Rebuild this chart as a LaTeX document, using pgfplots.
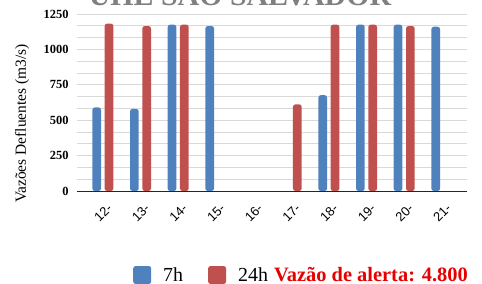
\documentclass[border=0pt]{standalone}
\usepackage{fontspec}
\setmainfont{Liberation Serif}
\setsansfont{Liberation Sans}
\usepackage{pgfplots}
\pgfplotsset{compat=1.18}
\definecolor{sblue}{HTML}{4F81BD}
\definecolor{sred}{HTML}{C0504D}
\definecolor{alert}{HTML}{E60000}
\definecolor{gridc}{HTML}{D9D9D9}
\begin{document}
\begin{tikzpicture}
\useasboundingbox (0,0) rectangle (482bp,284bp);
\clip (0,0) rectangle (482bp,284bp);
\node[anchor=base, font=\bfseries\fontsize{30}{32}\selectfont, text=black!50, inner sep=0pt] at (240bp,278bp) {UHE SÃO SALVADOR};
\begin{axis}[
  at={(77bp,93bp)}, anchor=south west,
  scale only axis, width=390bp, height=177bp,
  xmin=-0.686, xmax=9.667, ymin=0, ymax=1250,
  ybar, bar width=8.7bp,
  axis lines*=left,
  x axis line style={black!85, line width=1bp, -},
  y axis line style={draw=none},
  major tick length=0pt, minor tick length=0pt,
  ytick={0,250,500,750,1000,1250},
  minor y tick num=2,
  ymajorgrids, yminorgrids,
  major grid style={gridc, line width=0.8bp},
  minor grid style={gridc, line width=0.8bp},
  xtick={0,1,2,3,4,5,6,7,8,9},
  xticklabels={12-,13-,14-,15-,16-,17-,18-,19-,20-,21-},
  xticklabel style={font=\sffamily\fontsize{13}{14}\selectfont, xshift=7bp, yshift=-15bp, rotate=45, anchor=east, inner sep=0pt},
  /pgf/number format/assume math mode=true,
  /pgf/number format/1000 sep={},
  scaled y ticks=false,
  yticklabel style={font=\bfseries\fontsize{12.5}{14}\selectfont, xshift=-5bp},
  ylabel={Vazões Defluentes (m3/s)},
  ylabel style={at={(rel axis cs:-0.141,0.381)}, anchor=center, font=\fontsize{15.5}{17}\selectfont},
  legend style={draw=none, fill=none, at={(rel axis cs:0.1436,-0.4746)}, anchor=west,
    legend columns=-1, inner sep=0pt, font=\fontsize{20}{22}\selectfont,
    nodes={inner sep=0pt},
    /tikz/every odd column/.append style={column sep=12bp},
    /tikz/every even column/.append style={column sep=25bp}},
  legend cell align=left,
]
\addplot[fill=sblue, draw=none, bar shift=-6.15bp, rounded corners=2.5bp,
  legend image code/.code={\fill[sblue] (0bp,-9bp) rectangle (18bp,9bp);}]
  coordinates {(0,590) (1,580) (2,1175) (3,1165) (6,677) (7,1175) (8,1175) (9,1160)};
\addlegendentry{7h}
\addplot[fill=sred, draw=none, bar shift=6.15bp, rounded corners=2.5bp,
  legend image code/.code={\fill[sred] (0bp,-9bp) rectangle (18bp,9bp);}]
  coordinates {(0,1182) (1,1165) (2,1175) (5,612) (6,1175) (7,1175) (8,1165)};
\addlegendentry{24h\hspace{6bp}\textcolor{alert}{\bfseries\fontsize{20.5}{22}\selectfont Vazão de alerta: 4.800}}
\end{axis}
\end{tikzpicture}
\end{document}
